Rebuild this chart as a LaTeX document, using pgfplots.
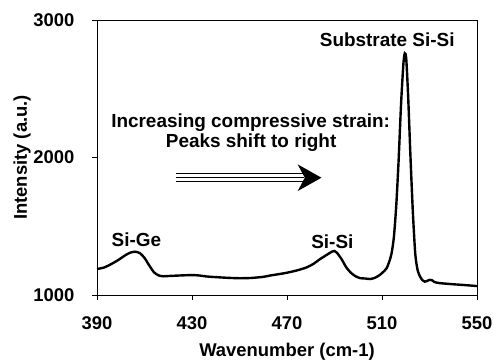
\documentclass[border=0pt]{standalone}
\usepackage{fontspec}
\setmainfont{Liberation Sans}
\usepackage{pgfplots}
\pgfplotsset{compat=1.18}
\begin{document}
\begin{tikzpicture}
\useasboundingbox (-97bp,-65bp) rectangle (396bp,295bp);
\begin{axis}[
  at={(0,0)}, anchor=south west,
  scale only axis, width=380bp, height=275bp,
  xmin=390, xmax=550, ymin=1000, ymax=3000,
  xtick={390,430,470,510,550}, ytick={1000,2000,3000},
  xtick pos=left, ytick pos=left, tick align=outside,
  major tick length=5bp,
  axis line style={line width=0.9bp},
  every tick/.style={black, line width=0.9bp},
  /pgf/number format/1000 sep={},
  /pgf/number format/assume math mode=true,
  ticklabel style={font=\bfseries\fontsize{18.5}{20}\selectfont},
  yticklabel style={xshift=-14bp},
  xticklabel style={yshift=-13bp},
  xlabel={Wavenumber (cm-1)}, ylabel={Intensity (a.u.)},
  label style={font=\bfseries\fontsize{18.5}{20}\selectfont},
  xlabel style={at={(axis description cs:0.5,-0.207)}, anchor=center},
  ylabel style={at={(axis description cs:-0.197,0.5)}, anchor=center},
  clip=false,
]
\addplot[black, line width=2.4bp, smooth, tension=0.4] coordinates {
(390,1189) (393,1200) (396,1225) (399,1255) (402,1290) (404,1308) (406,1315)
(408,1305) (410,1270) (412,1215) (414,1165) (416,1142) (418,1136) (420,1138)
(425,1142) (430,1145) (433,1142) (436,1135) (440,1130) (445,1125) (450,1122)
(455,1124) (460,1132) (463,1142) (466,1150) (470,1162) (474,1178) (478,1199)
(481,1225) (484,1262) (487,1295) (489,1316) (490,1320) (491,1308) (493,1260)
(495,1200) (497,1160) (499,1135) (501,1122) (503,1120) (505,1116) (507,1125)
(509,1145) (511,1175) (512,1196) (513,1240) (514,1300) (515,1420) (516,1650)
(517,1980) (518,2380) (519,2680) (519.6,2758) (520.2,2720) (521,2450)
(522,2000) (523,1600) (524,1300) (525,1180) (526,1135) (527,1108) (528,1097)
(529,1102) (530,1110) (531,1108) (532,1095) (534,1087) (540,1078) (545,1072)
(550,1065)
};
\node[font=\bfseries\fontsize{19}{20}\selectfont] at (axis cs:512.2,2855) {Substrate Si-Si};
\node[font=\bfseries\fontsize{19}{20}\selectfont] at (axis cs:454.7,2253) {Increasing compressive strain:};
\node[font=\bfseries\fontsize{19}{20}\selectfont] at (axis cs:454.9,2105) {Peaks shift to right};
\node[font=\bfseries\fontsize{19}{20}\selectfont] at (axis cs:406.6,1400) {Si-Ge};
\node[font=\bfseries\fontsize{19}{20}\selectfont] at (axis cs:489.1,1388) {Si-Si};
\draw[line width=1.2bp] (axis cs:423.1,1883) -- (axis cs:477,1883);
\draw[line width=1.2bp] (axis cs:423.1,1855) -- (axis cs:477,1855);
\draw[line width=1.8bp] (axis cs:423.1,1825) -- (axis cs:477,1825);
\fill (axis cs:484.5,1853) -- (axis cs:474.5,1950) -- (axis cs:477.5,1853) -- (axis cs:474.5,1756) -- cycle;
\end{axis}
\end{tikzpicture}
\end{document}
